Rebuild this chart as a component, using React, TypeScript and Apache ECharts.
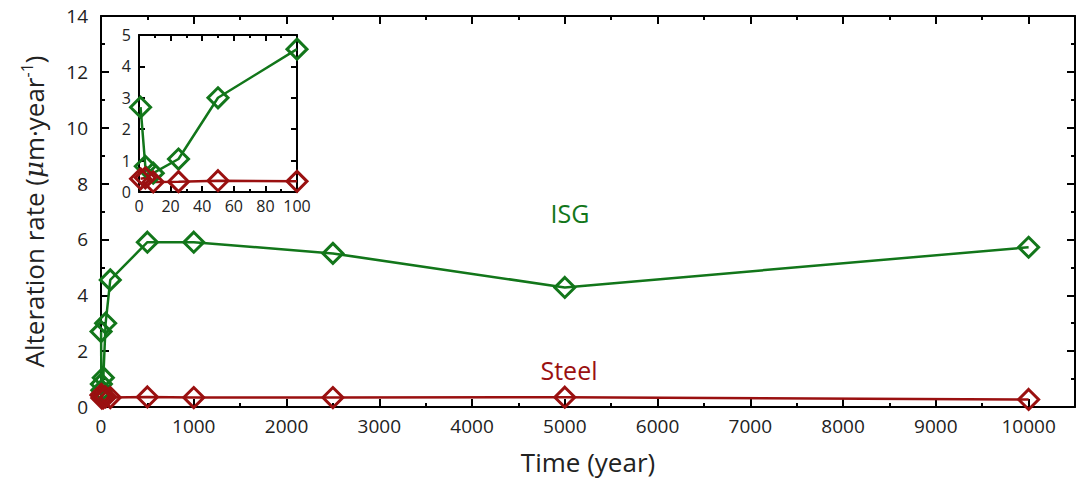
import React, { useEffect, useRef } from "react";
import * as echarts from "echarts";

// ---- data ----
const isgTime = [1, 4, 9, 25, 50, 100, 500, 1000, 2500, 5000, 10000];
const isgRate = [2.7, 0.82, 0.6, 1.05, 3.0, 4.55, 5.9, 5.9, 5.5, 4.28, 5.72];
const steelTime = [1, 4, 9, 25, 50, 100, 500, 1000, 2500, 5000, 10000];
const steelRate = [0.42, 0.45, 0.32, 0.33, 0.36, 0.34, 0.36, 0.34, 0.34, 0.35, 0.27];

const mainXLabels = [0, 1000, 2000, 3000, 4000, 5000, 6000, 7000, 8000, 9000, 10000];
const mainXMinor = [500, 1500, 2500, 3500, 4500, 5500, 6500, 7500, 8500, 9500];
const mainYLabels = [0, 2, 4, 6, 8, 10, 12, 14];
const mainYMinor = [1, 3, 5, 7, 9, 11, 13];
const insetXLabels = [0, 20, 40, 60, 80, 100];
const insetXMinor = [10, 30, 50, 70, 90];
const insetYLabels = [0, 1, 2, 3, 4, 5];

const GREEN = "#12761a";
const RED = "#9a1010";
const FONT = "Open Sans";
const TXT = "#222";

export default function App() {
  const ref = useRef<HTMLDivElement>(null);
  useEffect(() => {
    if (!ref.current) return;
    const chart = echarts.init(ref.current, undefined, { renderer: "svg" });
    const pair = (xs: number[], ys: number[]) => xs.map((x, i) => [x, ys[i]]);
    const insetPair = (xs: number[], ys: number[]) =>
      xs.map((x, i) => [x, ys[i]]).filter((p) => p[0] <= 100);

    const lineAxis = { show: true, onZero: false, lineStyle: { color: "#000", width: 2 } };
    const noLine = { show: false, onZero: false };
    const tick = (vals: number[], len: number) => ({
      show: true,
      inside: true,
      length: len,
      customValues: vals,
      lineStyle: { color: "#000", width: 2 },
    });
    const label = (vals: number[], size: number, margin: number) => ({
      show: true,
      customValues: vals,
      fontSize: size,
      fontFamily: FONT,
      color: TXT,
      margin,
      formatter: (v: number) => String(v),
    });
    const hidden = { show: false };

    const ax = (grid: number, min: number, max: number, pos: string, extra: any) => ({
      type: "value",
      gridIndex: grid,
      min,
      max,
      position: pos,
      splitLine: hidden,
      ...extra,
    });

    const sym = 20;
    const mk = (name: string, color: string, data: number[][], xi: number, z: number) => ({
      type: "line",
      name,
      xAxisIndex: xi,
      yAxisIndex: xi,
      data,
      symbol: "diamond",
      symbolSize: sym,
      lineStyle: { color, width: 2.5 },
      itemStyle: { color: "rgba(255,255,255,0)", borderColor: color, borderWidth: 3 },
      z,
    });

    const option: any = {
      animation: false,
      grid: [
        { left: 101, right: 1, top: 16, bottom: 78 },
        { left: 139, top: 35, width: 158, height: 157, show: true, backgroundColor: "#fff", borderWidth: 0, z: 5 },
      ],
      xAxis: [
        ax(0, 0, 10500, "bottom", {
          axisLine: lineAxis,
          axisTick: tick(mainXLabels, 8),
          axisLabel: label(mainXLabels, 19, 9),
          name: "Time (year)",
          nameLocation: "middle",
          nameGap: 42,
          nameTextStyle: { fontSize: 26, fontFamily: FONT, color: TXT },
        }),
        ax(0, 0, 10500, "top", { axisLine: lineAxis, axisTick: tick(mainXLabels, 8), axisLabel: hidden }),
        ax(0, 0, 10500, "bottom", { axisLine: noLine, axisTick: tick(mainXMinor, 4), axisLabel: hidden }),
        ax(0, 0, 10500, "top", { axisLine: noLine, axisTick: tick(mainXMinor, 4), axisLabel: hidden }),
        ax(1, 0, 100, "bottom", {
          axisLine: lineAxis,
          axisTick: tick(insetXLabels, 6),
          axisLabel: label(insetXLabels, 16, 6),
          z: 6,
        }),
        ax(1, 0, 100, "top", { axisLine: lineAxis, axisTick: tick(insetXLabels, 6), axisLabel: hidden, z: 6 }),
        ax(1, 0, 100, "bottom", { axisLine: noLine, axisTick: tick(insetXMinor, 3), axisLabel: hidden, z: 6 }),
        ax(1, 0, 100, "top", { axisLine: noLine, axisTick: tick(insetXMinor, 3), axisLabel: hidden, z: 6 }),
      ],
      yAxis: [
        ax(0, 0, 14, "left", {
          axisLine: lineAxis,
          axisTick: tick(mainYLabels, 8),
          axisLabel: label(mainYLabels, 19, 13),
          name: "Alteration rate ({mu|μ}m·year{sup|-1})",
          nameLocation: "middle",
          nameGap: 52,
          nameTextStyle: {
            fontSize: 26,
            fontFamily: FONT,
            color: TXT,
            rich: {
              mu: { fontSize: 26, fontFamily: "DejaVu Serif", fontStyle: "italic", color: TXT },
              sup: { fontSize: 16, fontFamily: FONT, color: TXT, padding: [0, 0, 14, 0] },
            },
          },
        }),
        ax(0, 0, 14, "right", { axisLine: lineAxis, axisTick: tick(mainYLabels, 8), axisLabel: hidden }),
        ax(0, 0, 14, "left", { axisLine: noLine, axisTick: tick(mainYMinor, 4), axisLabel: hidden }),
        ax(0, 0, 14, "right", { axisLine: noLine, axisTick: tick(mainYMinor, 4), axisLabel: hidden }),
        ax(1, 0, 5, "left", {
          axisLine: lineAxis,
          axisTick: tick(insetYLabels, 6),
          axisLabel: label(insetYLabels, 16, 8),
          z: 6,
        }),
        ax(1, 0, 5, "right", { axisLine: lineAxis, axisTick: tick(insetYLabels, 6), axisLabel: hidden, z: 6 }),
      ],
      series: [
        mk("ISG", GREEN, pair(isgTime, isgRate), 0, 3),
        mk("Steel", RED, pair(steelTime, steelRate), 0, 3),
        mk("ISG inset", GREEN, insetPair(isgTime, isgRate), 4, 7),
        mk("Steel inset", RED, insetPair(steelTime, steelRate), 4, 7),
      ],
      graphic: [
        {
          type: "text",
          x: 570,
          y: 213,
          style: { text: "ISG", fontSize: 25, fontFamily: FONT, fill: GREEN, align: "center", verticalAlign: "middle" },
        },
        {
          type: "text",
          x: 569,
          y: 370,
          style: { text: "Steel", fontSize: 25, fontFamily: FONT, fill: RED, align: "center", verticalAlign: "middle" },
        },
      ],
    };
    chart.setOption(option);
    return () => chart.dispose();
  }, []);
  return (
    <div
      ref={ref}
      style={{ position: "fixed", left: 0, top: 0, width: 1076, height: 485, background: "#fff" }}
    />
  );
}
